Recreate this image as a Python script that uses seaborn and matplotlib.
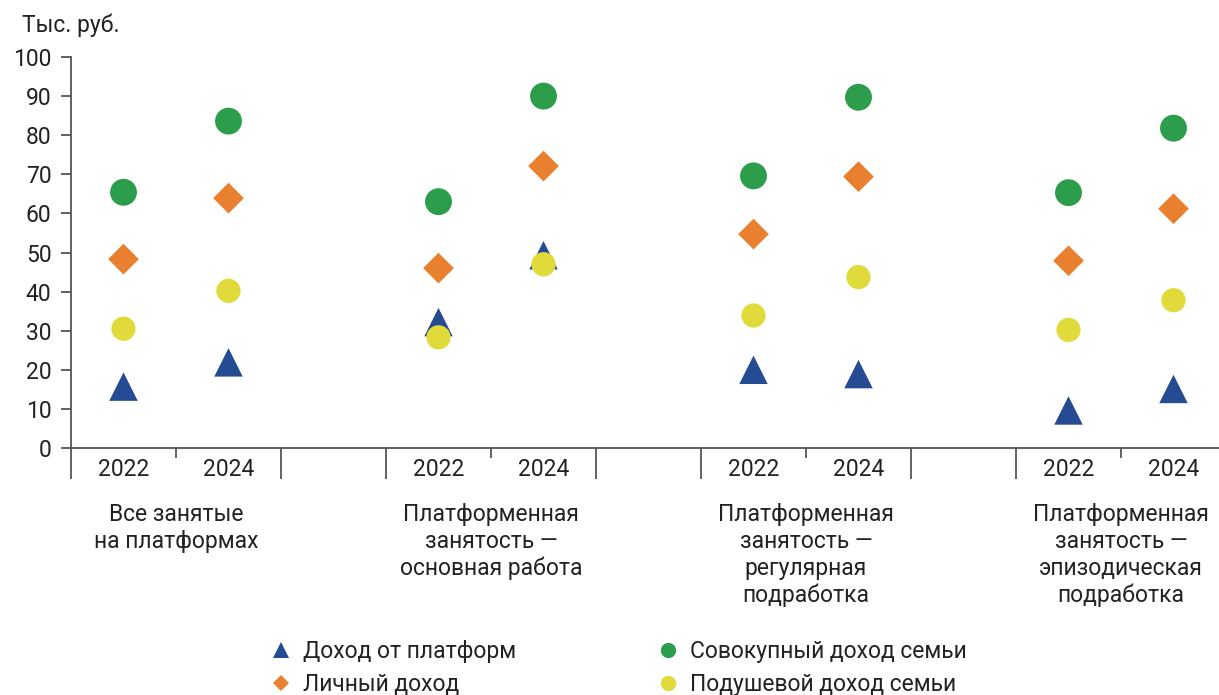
import matplotlib
matplotlib.use("Agg")
import matplotlib.pyplot as plt
import seaborn as sns
import pandas as pd
from matplotlib.lines import Line2D
from matplotlib.transforms import blended_transform_factory

# ---------------- data ----------------
groups = [
    "Все занятые\nна платформах",
    "Платформенная\nзанятость —\nосновная работа",
    "Платформенная\nзанятость —\nрегулярная\nподработка",
    "Платформенная\nзанятость —\nэпизодическая\nподработка",
]
years = ["2022", "2024"]
series = ["Доход от платформ", "Личный доход", "Совокупный доход семьи", "Подушевой доход семьи"]

# values ordered: group1 2022, group1 2024, group2 2022, ...
platform_income = [15.7, 21.9, 32.2, 49.3, 20.0, 18.9, 9.6, 15.1]
personal_income = [48.3, 63.9, 46.0, 72.1, 54.7, 69.4, 47.9, 61.2]
family_income = [65.4, 83.6, 63.0, 90.0, 69.6, 89.7, 65.3, 81.8]
per_capita_income = [30.5, 40.2, 28.3, 47.0, 33.9, 43.7, 30.2, 37.8]

y_ticks = list(range(0, 101, 10))
unit_label = "Тыс. руб."

colors = {
    series[0]: "#254C93",
    series[1]: "#E8802F",
    series[2]: "#2C9E4B",
    series[3]: "#E0DA3A",
}
markers = {series[0]: "^", series[1]: "D", series[2]: "o", series[3]: "o"}
sizes = {series[0]: 420, series[1]: 245, series[2]: 375, series[3]: 305}

# ---------------- build table ----------------
values = [platform_income, personal_income, family_income, per_capita_income]
rows = []
for s, vals in zip(series, values):
    for i, v in enumerate(vals):
        g, yi = divmod(i, len(years))
        rows.append({"series": s, "group": g, "year": years[yi],
                     "pos": g * 3 + yi, "value": v})
df = pd.DataFrame(rows)

# ---------------- plot ----------------
sns.set_theme(style="white")
plt.rcParams["font.family"] = ["Roboto", "DejaVu Sans"]
TXT = "#222222"
AX = "#555555"
FS = 16.5

fig = plt.figure(figsize=(12.19, 6.95), dpi=100)
ax = fig.add_axes([71 / 1219, (695 - 448) / 695, 1155 / 1219, 391 / 695])

sns.scatterplot(data=df, x="pos", y="value", hue="series", style="series",
                size="series", palette=colors, markers=markers, sizes=sizes,
                linewidth=0, legend=False, ax=ax, clip_on=False, zorder=3)

n_slots = len(groups) * 3 - 1
ax.set_xlim(-0.5, n_slots - 0.5)
ax.set_ylim(0, 100)
ax.set_xlabel("")
ax.set_ylabel("")

for sp in ["top", "right"]:
    ax.spines[sp].set_visible(False)
for sp in ["left", "bottom"]:
    ax.spines[sp].set_color(AX)
    ax.spines[sp].set_linewidth(1.3)

ax.set_yticks(y_ticks)
ax.set_yticklabels([str(t) for t in y_ticks])
ax.tick_params(axis="y", direction="out", length=7, width=1.3, color=AX,
               labelsize=FS, labelcolor=TXT, pad=7, left=True)

# long boundary ticks (major), year labels (minor)
long_ticks = []
for g in range(len(groups)):
    long_ticks += [g * 3 - 0.5, g * 3 + 1.5]
ax.set_xticks(long_ticks)
ax.set_xticklabels([""] * len(long_ticks))
ax.tick_params(axis="x", which="major", direction="out", length=22, width=1.3,
               color=AX, bottom=True)
centers = [g * 3 + yi for g in range(len(groups)) for yi in range(len(years))]
ax.set_xticks(centers, minor=True)
ax.set_xticklabels([years[c % 3] for c in centers], minor=True)
ax.tick_params(axis="x", which="minor", length=0, labelsize=FS,
               labelcolor=TXT, pad=7, bottom=True)

# short ticks between years
sec = ax.secondary_xaxis("bottom")
sec.set_xticks([g * 3 + 0.5 for g in range(len(groups))])
sec.set_xticklabels([])
sec.tick_params(direction="out", length=7, width=1.3, color=AX)
sec.spines["bottom"].set_visible(False)

# group labels
trans = blended_transform_factory(ax.transData, ax.transAxes)
for g, name in enumerate(groups):
    ax.text(g * 3 + 0.5, -0.14, name, transform=trans, ha="center", va="top",
            fontsize=FS, color=TXT, linespacing=1.22)

fig.text(22 / 1219, 1 - 25 / 695, unit_label, ha="left", va="center",
         fontsize=FS, color=TXT)

handles = [
    Line2D([], [], linestyle="none", marker=markers[s], color=colors[s],
           markersize=(11 if markers[s] != "D" else 8), markeredgewidth=0)
    for s in series
]
fig.legend(handles, series, ncol=2, loc="upper left",
           bbox_to_anchor=(272 / 1219, 1 - 640 / 695), frameon=False,
           fontsize=FS, labelcolor=TXT, handlelength=0.8, handletextpad=0.55,
           columnspacing=6.25, labelspacing=0.45, borderpad=0, borderaxespad=0)

fig.savefig("out.png", dpi=100, facecolor="white")
